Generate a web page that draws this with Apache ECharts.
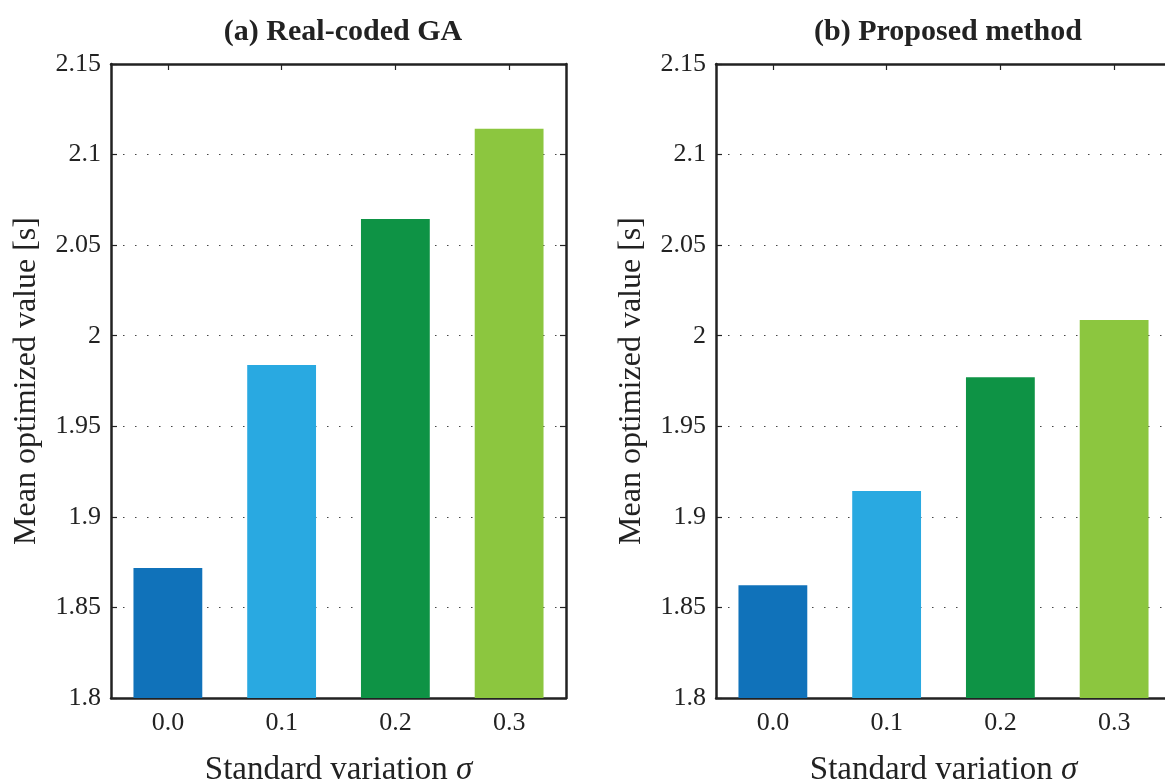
<!DOCTYPE html>
<html>
<head>
<meta charset="utf-8">
<script src="https://cdn.jsdelivr.net/npm/echarts@6/dist/echarts.min.js"></script>
<style>
  html, body { margin: 0; padding: 0; overflow: hidden; background: #fff; }
  #chart { width: 1172px; height: 782px; }
</style>
</head>
<body>
<div id="chart"></div>
<script>
// data
var categories = ['0.0', '0.1', '0.2', '0.3'];
var realCoded = [1.8718, 1.9838, 2.0645, 2.1142];
var proposed = [1.8623, 1.9143, 1.9771, 2.0087];
var panelTitles = ['(a) Real-coded GA', '(b) Proposed method'];

var barColors = ['#1072ba', '#29a9e1', '#0e9345', '#8cc63f'];
var font = 'Liberation Serif';
var ink = '#222';

var myChart = echarts.init(document.getElementById('chart'));

var grids = [
  { left: 111, top: 64, width: 455, height: 634, outerBoundsMode: 'none', containLabel: false },
  { left: 716, top: 64, width: 455, height: 634, outerBoundsMode: 'none', containLabel: false }
];

var frameLine = { show: true, lineStyle: { color: ink, width: 2.5 } };
var innerTick = { show: true, inside: true, length: 6, lineStyle: { color: ink, width: 1.2 } };

var xAxes = [], yAxes = [], series = [];
[realCoded, proposed].forEach(function(values, i) {
  // bottom axis with labels
  xAxes.push({
    type: 'category', gridIndex: i, position: 'bottom', data: categories,
    axisLine: frameLine, axisTick: { show: false },
    axisLabel: { color: ink, fontFamily: font, fontSize: 26, margin: 12 },
    name: '{n|Standard variation }{s|σ}', nameLocation: 'middle', nameGap: 56,
    nameTextStyle: {
      rich: {
        n: { fontFamily: font, fontSize: 33, color: ink },
        s: { fontFamily: font, fontSize: 33, color: ink, fontStyle: 'italic' }
      }
    }
  });
  // top frame with ticks
  xAxes.push({
    type: 'category', gridIndex: i, position: 'top', data: categories,
    axisLine: frameLine, axisTick: Object.assign({ alignWithLabel: true }, innerTick),
    axisLabel: { show: false }
  });
  yAxes.push({
    type: 'value', gridIndex: i, position: 'left', min: 1.8, max: 2.15, interval: 0.05,
    axisLine: frameLine, axisTick: innerTick,
    axisLabel: { color: ink, fontFamily: font, fontSize: 26, margin: 10 },
    splitLine: { show: true, lineStyle: { color: '#444', width: 1.2, type: [1.5, 10.5] } },
    name: 'Mean optimized value [s]', nameLocation: 'middle', nameGap: 68,
    nameTextStyle: { fontFamily: font, fontSize: 32, color: ink }
  });
  yAxes.push({
    type: 'value', gridIndex: i, position: 'right', min: 1.8, max: 2.15, interval: 0.05,
    axisLine: frameLine, axisTick: innerTick,
    axisLabel: { show: false }, splitLine: { show: false }
  });
  series.push({
    type: 'bar', xAxisIndex: i * 2, yAxisIndex: i * 2, barWidth: '60.5%',
    data: values.map(function(v, k) {
      return { value: v, itemStyle: { color: barColors[k] } };
    })
  });
});

var option = {
  backgroundColor: '#fff',
  animation: false,
  title: panelTitles.map(function(t, i) {
    return {
      text: t, left: grids[i].left + 227, top: 12, textAlign: 'center',
      textStyle: { fontFamily: font, fontSize: 30, fontWeight: 'bold', color: ink }
    };
  }),
  grid: grids,
  xAxis: xAxes,
  yAxis: yAxes,
  series: series
};

myChart.setOption(option);
</script>
</body>
</html>
